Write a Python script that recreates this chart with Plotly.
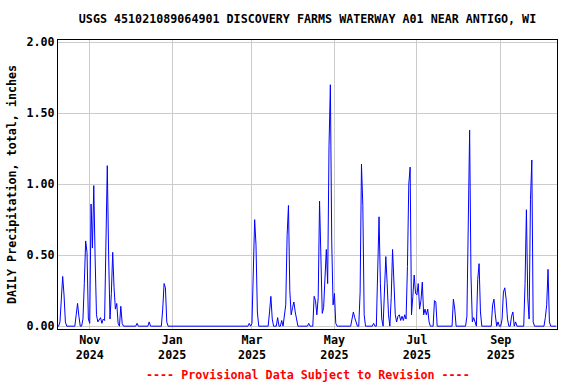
import pandas as pd
import plotly.graph_objects as go

# Daily precipitation, inches
oct_2024 = [0, 0, 0.03, 0.20, 0.35, 0.22, 0.03, 0, 0, 0, 0, 0, 0, 0, 0.08, 0.16, 0.07, 0, 0,
            0.05, 0.30, 0.60, 0.52, 0.05]  # Oct 8 - Oct 31
nov_2024 = [0.02, 0.86, 0.55, 0.99, 0.48, 0.08, 0.03, 0.05, 0.06, 0.02,
            0.05, 0.04, 0.58, 1.13, 0.50, 0.05, 0.23, 0.52, 0.27, 0.12,
            0.16, 0.02, 0, 0.14, 0.02, 0, 0, 0, 0, 0]
dec_2024 = [0, 0, 0, 0, 0, 0.02, 0, 0, 0, 0,
            0, 0, 0, 0, 0.03, 0, 0, 0, 0, 0,
            0, 0, 0, 0, 0.12, 0.30, 0.27, 0.03, 0, 0, 0]
jan_2025 = [0, 0, 0, 0, 0, 0, 0, 0, 0, 0,
            0, 0, 0, 0, 0, 0, 0, 0, 0, 0,
            0, 0, 0, 0, 0, 0, 0, 0, 0, 0, 0]
feb_2025 = [0, 0, 0, 0, 0, 0, 0, 0, 0, 0,
            0, 0, 0, 0, 0, 0, 0, 0, 0, 0,
            0, 0, 0, 0, 0, 0, 0.02, 0]
mar_2025 = [0.02, 0.40, 0.75, 0.57, 0.10, 0, 0, 0, 0, 0,
            0, 0, 0, 0.10, 0.21, 0.05, 0, 0, 0, 0.06,
            0, 0, 0.04, 0, 0.07, 0.15, 0.64, 0.85, 0.25, 0.08, 0.13]
apr_2025 = [0.17, 0.10, 0.04, 0, 0, 0, 0, 0, 0, 0,
            0, 0.02, 0, 0, 0, 0.21, 0.18, 0.08, 0.20, 0.88,
            0.45, 0.09, 0.13, 0.40, 0.54, 0.30, 1.27, 1.70, 0.60, 0.15]
may_2025 = [0.23, 0.02, 0, 0, 0, 0, 0, 0, 0, 0,
            0, 0, 0, 0.05, 0.10, 0.06, 0.03, 0, 0, 0.24,
            1.14, 0.85, 0.08, 0, 0, 0, 0, 0, 0, 0.02, 0]
jun_2025 = [0, 0.45, 0.77, 0.30, 0.05, 0, 0.20, 0.49, 0.30, 0.08,
            0, 0.20, 0.54, 0.25, 0.08, 0.03, 0.07, 0.08, 0.04, 0.07,
            0.04, 0.08, 0.05, 0.42, 1.00, 1.12, 0.08, 0.21, 0.36, 0.23]
jul_2025 = [0.22, 0.30, 0.12, 0.18, 0.31, 0.08, 0.12, 0.08, 0.12, 0.03,
            0, 0, 0, 0.18, 0.17, 0, 0, 0, 0, 0,
            0, 0, 0, 0, 0, 0, 0, 0.19, 0.12, 0, 0]
aug_2025 = [0, 0, 0, 0, 0, 0, 0.07, 0.76, 1.38, 0.36,
            0.03, 0.06, 0.02, 0, 0.33, 0.44, 0.10, 0, 0, 0,
            0, 0, 0, 0, 0, 0.15, 0.19, 0.08, 0, 0.03, 0]
sep_2025 = [0, 0.05, 0.24, 0.27, 0.19, 0.05, 0, 0, 0.07, 0.10,
            0, 0.03, 0, 0, 0, 0, 0, 0, 0.30, 0.82,
            0.20, 0.05, 0.89, 1.17, 0.03, 0, 0, 0, 0, 0]
oct_2025 = [0, 0, 0, 0.06, 0.15, 0.40, 0.03, 0, 0, 0, 0, 0]  # Oct 1 - Oct 12

month_starts = ["2024-10-08", "2024-11-01", "2024-12-01", "2025-01-01", "2025-02-01",
                "2025-03-01", "2025-04-01", "2025-05-01", "2025-06-01", "2025-07-01",
                "2025-08-01", "2025-09-01", "2025-10-01"]
month_values = [oct_2024, nov_2024, dec_2024, jan_2025, feb_2025, mar_2025, apr_2025,
                may_2025, jun_2025, jul_2025, aug_2025, sep_2025, oct_2025]

tick_dates = ["2024-11-01", "2025-01-01", "2025-03-01", "2025-05-01", "2025-07-01", "2025-09-01"]
tick_text = ["Nov<br>2024", "Jan<br>2025", "Mar<br>2025", "May<br>2025", "Jul<br>2025", "Sep<br>2025"]
y_ticks = [0, 0.5, 1.0, 1.5, 2.0]

dates = []
values = []
for start, arr in zip(month_starts, month_values):
    dates.extend(pd.date_range(start, periods=len(arr), freq="D"))
    values.extend(arr)

FONT = "DejaVu Sans Mono"
FS = 11.7

fig = go.Figure(go.Scatter(x=dates, y=values, mode="lines",
                           line=dict(color="#0000ff", width=1), hoverinfo="x+y"))

fig.update_layout(
    width=576, height=384,
    margin=dict(l=58, r=19, t=40, b=55),
    paper_bgcolor="white", plot_bgcolor="white",
    showlegend=False,
    font=dict(family=FONT, size=FS, color="black"),
    title=dict(text="<b>USGS 451021089064901 DISCOVERY FARMS WATERWAY A01 NEAR ANTIGO, WI</b>",
               xref="paper", x=0.5, xanchor="center",
               yref="container", y=1 - 19 / 384, yanchor="middle",
               font=dict(family=FONT, size=FS, color="black")),
)

fig.update_xaxes(
    type="date",
    range=["2024-10-08 13:00", "2025-10-12 15:00"],
    tickvals=tick_dates,
    ticktext=["<b>" + t.replace("<br>", "</b><br><b>") + "</b>" for t in tick_text],
    showgrid=True, gridcolor="#cccccc", gridwidth=1,
    showline=True, linecolor="black", linewidth=1, mirror=True,
    ticks="", zeroline=False,
    tickfont=dict(family=FONT, size=FS, color="black"),
)

fig.update_yaxes(
    range=[-0.02, 2.015],
    tickvals=y_ticks,
    ticktext=["<b>%.2f</b>" % v for v in y_ticks],
    showgrid=True, gridcolor="#cccccc", gridwidth=1,
    showline=True, linecolor="black", linewidth=1, mirror=True,
    ticks="", zeroline=False,
    tickfont=dict(family=FONT, size=FS, color="black"),
    title=dict(text="<b>DAILY Precipitation, total, inches</b>", standoff=7,
               font=dict(family=FONT, size=FS, color="black")),
)

fig.add_annotation(
    text="<b>---- Provisional Data Subject to Revision ----</b>",
    xref="paper", x=0.5, xanchor="center",
    yref="paper", y=(329 - 375) / 289, yanchor="middle",
    showarrow=False,
    font=dict(family=FONT, size=FS, color="#ff0000"),
)

fig.write_html("out.html", config={"displayModeBar": False},
               post_script="document.body.style.margin='0px';")
